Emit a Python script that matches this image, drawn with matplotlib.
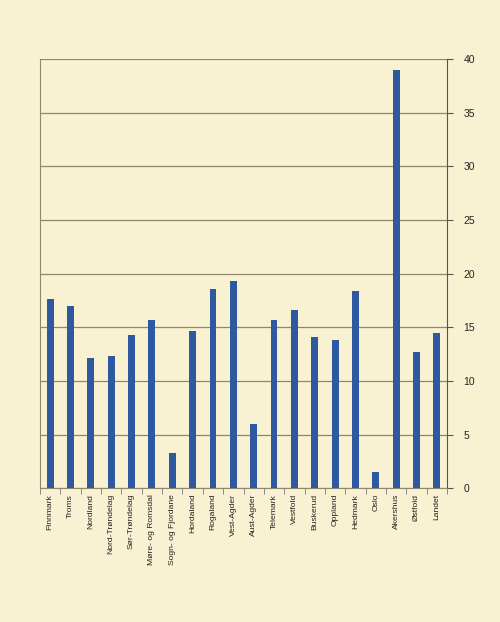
import matplotlib.pyplot as plt
import numpy as np

plt.rcParams['font.family'] = ['Liberation Sans', 'DejaVu Sans']

fylker = ['Finnmark', 'Troms', 'Nordland', 'Nord-Trøndelag', 'Sør-Trøndelag',
          'Møre- og Romsdal', 'Sogn- og Fjordane', 'Hordaland', 'Rogaland',
          'Vest-Agder', 'Aust-Agder', 'Telemark', 'Vestfold', 'Buskerud',
          'Oppland', 'Hedmark', 'Oslo', 'Akershus', 'Østfold', 'Landet']
verdier = [17.6, 17.0, 12.1, 12.3, 14.3, 15.7, 3.3, 14.7, 18.6,
           19.3, 6.0, 15.7, 16.6, 14.1, 13.8, 18.4, 1.55, 39.0, 12.7, 14.5]
yticks = [0, 5, 10, 15, 20, 25, 30, 35, 40]

bg = '#F8F2D2'
fig = plt.figure(figsize=(5.0, 6.22), dpi=100, facecolor=bg)
ax = fig.add_axes([0.08, 0.215, 0.814, 0.69], facecolor=bg)

x = np.arange(len(fylker))
ax.bar(x, verdier, width=0.34, color='#2E58A0', zorder=3)

ax.set_xlim(-0.5, len(fylker) - 0.5)
ax.set_ylim(0, 40)
ax.set_yticks(yticks)
ax.yaxis.tick_right()
ax.tick_params(axis='y', labelsize=7.5, length=4, color='#555555', pad=8, labelcolor='#222222')
ax.grid(axis='y', color='#8C8773', linewidth=0.9, zorder=1)

# etiketter under hver søyle, små streker mellom kategoriene
ax.set_xticks(x)
ax.set_xticklabels(fylker, rotation=90, fontsize=6.1, color='#222222')
ax.set_xticks(np.arange(-0.5, len(fylker)), minor=True)
ax.tick_params(axis='x', which='major', length=0, pad=4)
ax.tick_params(axis='x', which='minor', length=4, color='#777777')

for side in ['left', 'bottom']:
    ax.spines[side].set_color('#8C8773')
ax.spines['right'].set_color('#555555')
ax.spines['top'].set_visible(False)

fig.savefig('out.png', dpi=100, facecolor=bg)
